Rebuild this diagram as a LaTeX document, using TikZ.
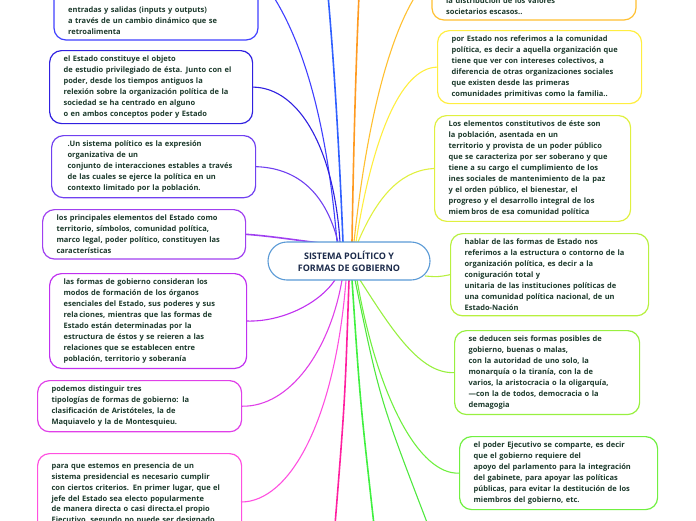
\documentclass[tikz,border=0pt]{standalone}
\usepackage{fontspec}
\setmainfont{Open Sans}
\definecolor{txt}{HTML}{1C3A2C}
\definecolor{ctxt}{HTML}{1B2A4A}
\definecolor{cb}{HTML}{5A9AD6}
\definecolor{cA}{HTML}{4040FF}
\definecolor{cAo}{HTML}{3060FF}
\definecolor{cB}{HTML}{3020E0}
\definecolor{cC}{HTML}{7040F0}
\definecolor{cD}{HTML}{A040F0}
\definecolor{cE}{HTML}{C030F0}
\definecolor{cF}{HTML}{E040E8}
\definecolor{cG}{HTML}{FF50E0}
\definecolor{cGo}{HTML}{FF20A0}
\definecolor{cOo}{HTML}{FF9A20}
\definecolor{cR1}{HTML}{FFC030}
\definecolor{cR2}{HTML}{FFEE40}
\definecolor{cR3}{HTML}{E0F040}
\definecolor{cR4}{HTML}{B8F040}
\definecolor{cR5}{HTML}{98F040}
\definecolor{cR6}{HTML}{70F040}
\definecolor{cGa}{HTML}{40F040}
\definecolor{cGb}{HTML}{50E840}
\newcommand{\boxfont}{\fontsize{7.5}{10.9}\selectfont\bfseries}
\tikzset{
  box/.style={draw=#1, rounded corners=12pt, line width=1.2pt, fill=white, align=left,
    anchor=north west, inner xsep=14pt, inner ysep=5.5pt, font=\boxfont, text=txt},
  txtonly/.style={align=left, inner xsep=14pt, inner ysep=5pt, font=\boxfont, text=txt},
  frame/.style={draw=#1, rounded corners=12pt, line width=1.2pt, fill=white},
  con/.style={line width=1.1pt},
  conb/.style={line width=1.6pt}
}
\begin{document}
\begin{tikzpicture}[x=1pt,y=-1pt]
\useasboundingbox (0,0) rectangle (696,520);
\coordinate (b1c) at (258,-25);
\coordinate (r1c) at (432,-25);
\coordinate (b7c) at (241,502);
\coordinate (t1) at (328,-5);
\coordinate (t2) at (359,-5);
\coordinate (d1) at (335,525);
\coordinate (d2) at (374,525);
\coordinate (d3) at (428,525);
\node[box=cB, text width=175pt] (b2) at (49,50) {el Estado constituye el objeto\\de estudio privilegiado de ésta. Junto con el\\poder, desde los tiempos antiguos la\\relexión sobre la organización política de la\\sociedad se ha centrado en alguno\\o en ambos conceptos poder y Estado};
\node[box=cC, text width=172pt, inner xsep=16pt] (b3) at (51,135) {.Un sistema político es la expresión\\organizativa de un\\conjunto de interacciones estables a través\\de las cuales se ejerce la política en un\\contexto limitado por la población.};
\node[box=cD, text width=175pt] (b4) at (42,209) {los principales elementos del Estado como\\territorio, símbolos, comunidad política,\\marco legal, poder político, constituyen las\\características};
\node[box=cE, text width=169pt] (b5) at (49,273) {las formas de gobierno consideran los\\modos de formación de los órganos\\esenciales del Estado, sus poderes y sus\\rela\,ciones, mientras que las formas de\\Estado están determinadas por la\\estructura de éstos y se reieren a las\\relaciones que se establecen entre\\población, territorio y soberanía};
\node[box=cF, text width=176pt] (b6) at (37,380) {podemos distinguir tres\\tipologías de formas de gobierno: la\\clasificación de Aristóteles, la de\\Maquiavelo y la de Montesquieu.};
\node[box=cG, text width=176pt, minimum height=80pt] (b7) at (37,453) {para que estemos en presencia de un\\sistema presidencial es necesario cumplir\\con ciertos criterios. En primer lugar, que el\\jefe del Estado sea electo popularmente\\de manera directa o casi directa.el propio\\Ejecutivo, segundo no puede ser designado};
\node[box=cR2, text width=176pt] (r2) at (437,30) {por Estado nos referimos a la comunidad\\política, es decir a aquella organización que\\tiene que ver con intereses colectivos, a\\diferencia de otras organizaciones sociales\\que existen desde las primeras\\comunidades primitivas como la familia..};
\node[box=cR3, text width=168pt] (r3) at (434,115) {Los elementos constitutivos de éste son\\la población, asentada en un\\territorio y provista de un poder público\\que se caracteriza por ser soberano y que\\tiene a su cargo el cumplimiento de los\\ines sociales de mantenimiento de la paz\\y el orden público, el bienestar, el\\progreso y el desarrollo integral de los\\miem\,bros de esa comunidad política};
\node[box=cR4, text width=170pt] (r4) at (450,233) {hablar de las formas de Estado nos\\referimos a la estructura o contorno de la\\organización política, es decir a la\\coniguración total y\\unitaria de las instituciones políticas de\\una comunidad política nacional, de un\\Estado-Nación};
\node[box=cR5, text width=157pt] (r5) at (454,330) {se deducen seis formas posibles de\\gobierno, buenas o malas,\\con la autoridad de uno solo, la\\monarquía o la tiranía, con la de\\varios, la aristocracia o la oligarquía,\\—con la de todos, democracia o la\\demagogia};
\node[box=cR6, text width=170pt] (r6) at (459,436) {el poder Ejecutivo se comparte, es decir\\que el gobierno requiere del\\apoyo del parlamento para la integración\\del gabinete, para apoyar las políticas\\públicas, para evitar la destitución de los\\miembros del gobierno, etc.};
\draw[frame=cA] (54,-40) rectangle (258,40);
\node[txtonly, anchor=south west, text width=176pt] (b1) at (54,40) {entradas y salidas (inputs y outputs)\\a través de un cambio dinámico que se\\retroalimenta};
\draw[frame=cR1] (432,-40) rectangle (636,20);
\node[txtonly, anchor=south west, text width=176pt] (r1) at (432,20) {la distribución de los valores\\societarios escasos..};
\draw[con, cA] (337,242) .. controls (325,100) and (295,20) .. (b1c);
\draw[conb, cAo] (343,242) .. controls (338,120) and (332,40) .. (t1);
\draw[con, cB] (340,242) .. controls (334,150) and (300,88) .. (b2.east);
\draw[con, cC] (338,242) .. controls (325,190) and (295,168) .. (b3.east);
\draw[conb, cD] (320,243) .. controls (295,240) and (270,236) .. (b4.east);
\draw[conb, cOo] (352,242) .. controls (354,120) and (357,40) .. (t2);
\draw[con, cR1] (354,242) .. controls (368,110) and (395,10) .. (r1c);
\draw[con, cR2] (356,242) .. controls (372,140) and (400,68) .. (r2.west);
\draw[con, cR3] (358,242) .. controls (380,190) and (405,170) .. (r3.west);
\draw[con, cR4] (425,276) .. controls (438,277) .. (r4.west);
\draw[con, cE] (335,280) .. controls (318,305) and (280,322) .. (b5.east);
\draw[con, cF] (342,280) .. controls (330,350) and (290,407) .. (b6.east);
\draw[con, cG] (346,280) .. controls (335,420) and (290,502) .. (b7c);
\draw[conb, cGo] (349,280) .. controls (345,400) .. (d1);
\draw[conb, cGa] (352,280) .. controls (360,400) .. (d2);
\draw[con, cGb] (355,280) .. controls (380,400) .. (d3);
\draw[con, cR6] (357,280) .. controls (378,400) and (420,475) .. (r6.west);
\draw[con, cR5] (360,280) .. controls (392,330) and (420,374) .. (r5.west);
\node[draw=cb, line width=1.1pt, fill=white, rounded corners=19pt, minimum width=162pt, minimum height=38pt, align=center, text=ctxt, font=\fontsize{9}{12}\selectfont\bfseries] (c) at (349,261) {SISTEMA POLÍTICO Y\\FORMAS DE GOBIERNO};
\end{tikzpicture}
\end{document}
